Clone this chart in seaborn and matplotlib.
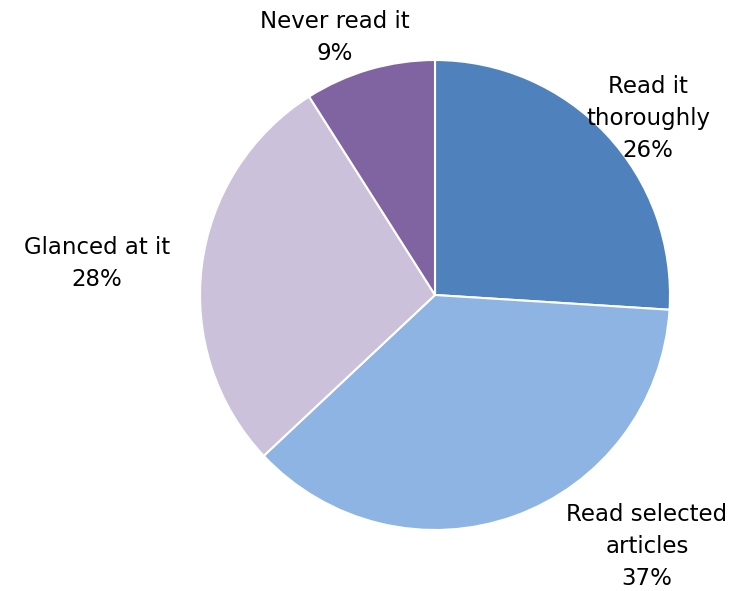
import matplotlib
matplotlib.use("Agg")
import matplotlib.pyplot as plt
import seaborn as sns

sns.set_theme(style="white")
plt.rcParams['font.family'] = ['DejaVu Sans']

categories = ["Read it\nthoroughly", "Read selected\narticles", "Glanced at it", "Never read it"]
shares = [26, 37, 28, 9]
colors = ["#4F81BD", "#8EB4E3", "#CCC1DA", "#8064A2"]

# label centres in data units (pie radius = 1)
label_pos = [(0.906, 0.753), (0.902, -1.07), (-1.438, 0.135), (-0.426, 1.094)]

fig = plt.figure(figsize=(7.4, 5.91), dpi=100)
ax = fig.add_axes([0.2703, 0.1032, 0.6351, 0.7953])

wedges, _ = ax.pie(shares, colors=colors, startangle=90, counterclock=False,
                   radius=1.0, wedgeprops=dict(edgecolor="white", linewidth=1.5))
ax.set_xlim(-1, 1)
ax.set_ylim(-1, 1)
ax.set_aspect("equal")

for name, val, (x, y) in zip(categories, shares, label_pos):
    ax.text(x, y, f"{name}\n{val}%", ha="center", va="center",
            fontsize=16.5, color="black", linespacing=1.5, clip_on=False)

ax.axis("off")
fig.savefig("out.png", dpi=100, facecolor="white")
